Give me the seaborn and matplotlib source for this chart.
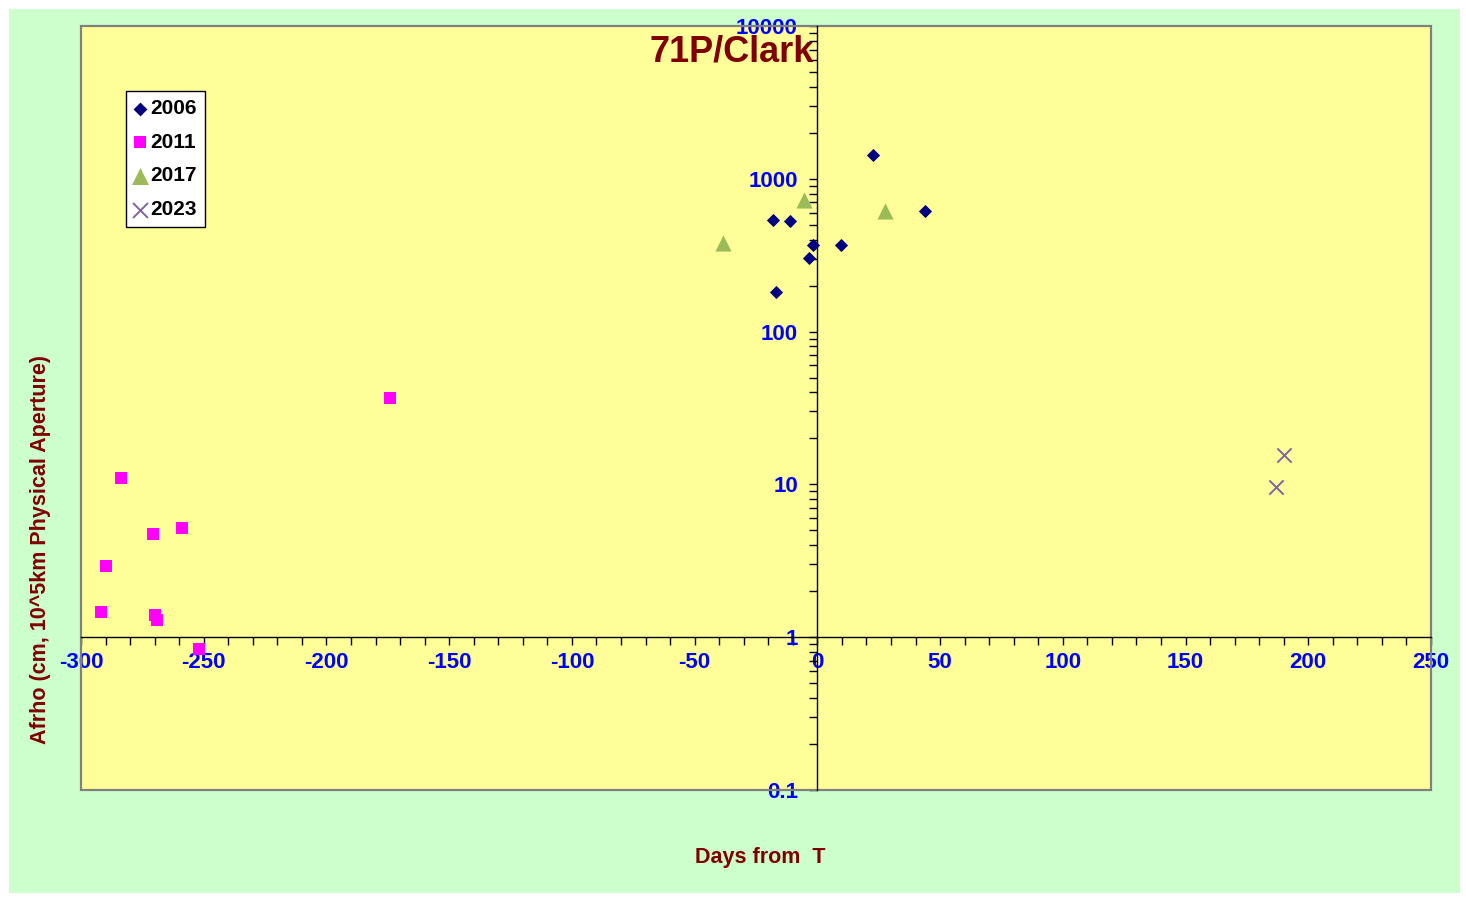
import matplotlib
matplotlib.use('Agg')
import matplotlib.pyplot as plt
import matplotlib.ticker as mticker
from matplotlib.patches import Rectangle
import numpy as np
import pandas as pd
import seaborn as sns

# values
x2006 = [-18.0, -11.0, -17.0, -1.9, -3.4, 9.7, 22.6, 44.0]
y2006 = [539, 531, 182, 369, 302, 369, 1424, 620]
x2011 = [-174.3, -283.8, -259.0, -270.8, -290.0, -292.0, -269.9, -269.2, -252.1]
y2011 = [36.9, 11.06, 5.21, 4.76, 2.94, 1.47, 1.40, 1.29, 0.84]
x2017 = [-38.3, -5.3, 27.7]
y2017 = [378, 727, 616]
x2023 = [190.0, 187.0]
y2023 = [15.5, 9.66]

xticks = [-300, -250, -200, -150, -100, -50, 0, 50, 100, 150, 200, 250]
yticks = [0.1, 1, 10, 100, 1000, 10000]

plt.rcParams['font.family'] = ['Liberation Sans', 'DejaVu Sans']
plt.rcParams['font.weight'] = 'bold'

W, H = 1466, 901
fig = plt.figure(figsize=(W / 100, H / 100), dpi=100, facecolor='white')
# green chart area, kept behind the axes
fig.add_artist(Rectangle((9 / W, (H - 893) / H), (1460 - 9) / W, (893 - 9) / H,
                         transform=fig.transFigure, facecolor='#CCFFCC',
                         edgecolor='none', zorder=-10))
ax = fig.add_axes([81 / W, (H - 790) / H, 1350 / W, 764 / H])
ax.set_facecolor('#FFFF99')

series = [
    ('2006', x2006, y2006, 'D', '#000080', 45),
    ('2011', x2011, y2011, 's', '#FF00FF', 66),
    ('2017', x2017, y2017, '^', '#9BBB59', 135),
    ('2023', x2023, y2023, 'x', '#8064A2', 105),
]
for name, xs, ys, mk, col, size in series:
    df = pd.DataFrame({'days': xs, 'afrho': ys})
    if mk == 'x':
        sns.scatterplot(data=df, x='days', y='afrho', marker=mk, color=col, s=size,
                        linewidth=1.4, label=name, ax=ax, zorder=4, clip_on=False)
    else:
        sns.scatterplot(data=df, x='days', y='afrho', marker=mk, color=col, s=size,
                        linewidth=0, label=name, ax=ax, zorder=4, clip_on=False)

ax.set_yscale('log')
ax.set_xlim(-300, 250)
ax.set_ylim(0.1, 10000)

# axes cross at x=0, y=1
ax.spines['left'].set_position(('data', 0))
ax.spines['bottom'].set_position(('data', 1))
for s in ['left', 'bottom']:
    ax.spines[s].set_color('black')
    ax.spines[s].set_linewidth(1)
    ax.spines[s].set_zorder(3)
for s in ['top', 'right']:
    ax.spines[s].set_visible(False)
ax.add_patch(Rectangle((0, 0), 1, 1, transform=ax.transAxes, fill=False,
                       edgecolor='#808080', linewidth=1.6, clip_on=False, zorder=2))

ax.set_xticks(xticks)
ax.xaxis.set_minor_locator(mticker.MultipleLocator(10))
ax.set_xticklabels([str(v) for v in xticks])
ax.yaxis.set_major_locator(mticker.FixedLocator(yticks))
ax.yaxis.set_minor_locator(mticker.LogLocator(base=10, subs=np.arange(2, 10)))
ax.yaxis.set_major_formatter(mticker.FuncFormatter(lambda v, p: '%g' % v))
ax.yaxis.set_minor_formatter(mticker.NullFormatter())

ax.tick_params(axis='x', which='both', direction='out', length=6, width=1,
               colors='black', labelcolor='blue', labelsize=16, pad=5)
ax.tick_params(axis='y', which='both', direction='out', length=6, width=1,
               colors='black', labelcolor='blue', labelsize=16, pad=8)
for lab in ax.get_xticklabels() + ax.get_yticklabels():
    lab.set_fontweight('bold')

ax.set_xlabel('Days from  T', color='#800000', fontsize=15.5, fontweight='bold',
              va='center')
ax.xaxis.set_label_coords((760 - 81) / 1350, (790 - 858) / 764)
ax.set_ylabel('Afrho (cm, 10^5km Physical Aperture)', color='#800000',
              fontsize=15.5, fontweight='bold', va='center')
ax.yaxis.set_label_coords((41 - 81) / 1350, (790 - 550) / 764)

ax.text((732 - 81) / 1350, (790 - 52) / 764, '71P/Clark', transform=ax.transAxes,
        ha='center', va='center', color='#800000', fontsize=26, fontweight='bold')

leg = ax.legend(loc='upper left', bbox_to_anchor=(126 / W, 1 - 91 / H),
                bbox_transform=fig.transFigure, borderaxespad=0, frameon=True,
                fancybox=False, edgecolor='black', facecolor='white', framealpha=1,
                handlelength=0.5, handletextpad=0.25, labelspacing=0.7,
                borderpad=0.4, markerscale=1.05, prop={'size': 15, 'weight': 'bold'})
leg.get_frame().set_linewidth(1)
leg.set_zorder(5)

fig.savefig('out.png', dpi=100, facecolor='white')
